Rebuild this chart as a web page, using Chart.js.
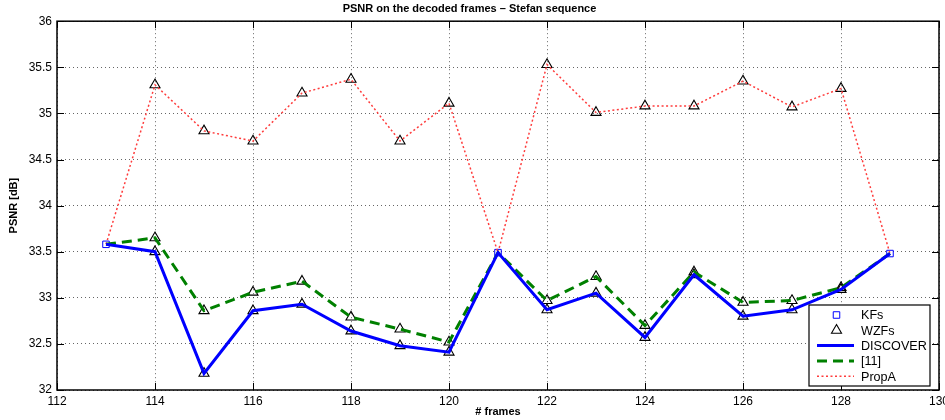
<!DOCTYPE html>
<html>
<head>
<meta charset="utf-8">
<script src="https://cdn.jsdelivr.net/npm/chart.js@4.4.1/dist/chart.umd.min.js"></script>
<style>
  html, body { margin: 0; padding: 0; background: #fff; }
  #wrap { width: 945px; height: 420px; }
</style>
</head>
<body>
<div id="wrap"><canvas id="psnrChart"></canvas></div>
<script>
// Data
const frames = [113, 114, 115, 116, 117, 118, 119, 120, 121, 122, 123, 124, 125, 126, 127, 128, 129];
const keyFrames = [113, 121, 129];
const discover = [33.58, 33.50, 32.18, 32.86, 32.93, 32.64, 32.48, 32.41, 33.49, 32.87, 33.05, 32.57, 33.25, 32.80, 32.87, 33.09, 33.48];
const ref11 = [33.58, 33.65, 32.86, 33.06, 33.18, 32.79, 32.66, 32.52, 33.49, 32.97, 33.23, 32.70, 33.28, 32.95, 32.97, 33.11, 33.48];
const propA = [33.58, 35.31, 34.81, 34.70, 35.22, 35.37, 34.70, 35.11, 33.49, 35.53, 35.01, 35.08, 35.08, 35.35, 35.07, 35.27, 33.48];
const xTicks = [112, 114, 116, 118, 120, 122, 124, 126, 128, 130];
const yTicks = [32, 32.5, 33, 33.5, 34, 34.5, 35, 35.5, 36];

const FONT = '"Liberation Sans", Arial, Helvetica, sans-serif';
const BLUE = '#0000ff';
const GREEN = '#008000';
const RED = '#ff3c3c';

// Build point lists
function toPoints(series) {
    return frames.map((f, i) => ({ x: f, y: series[i] }));
}

const kfPoints = toPoints(discover).filter(p => keyFrames.includes(p.x));
const wzfPoints = [discover, ref11, propA]
    .map(s => toPoints(s).filter(p => !keyFrames.includes(p.x)))
    .flat();

// Inward ticks + full box, MATLAB style
const boxPlugin = {
    id: 'boxPlugin',
    afterDatasetsDraw(chart) {
        const { ctx, chartArea: a, scales } = chart;
        const len = 7;
        ctx.save();
        ctx.strokeStyle = '#000';
        ctx.lineWidth = 1;
        ctx.beginPath();
        xTicks.forEach(t => {
            const px = Math.round(scales.x.getPixelForValue(t)) + 0.5;
            ctx.moveTo(px, a.bottom); ctx.lineTo(px, a.bottom - len);
            ctx.moveTo(px, a.top); ctx.lineTo(px, a.top + len);
        });
        yTicks.forEach(t => {
            const py = Math.round(scales.y.getPixelForValue(t)) + 0.5;
            ctx.moveTo(a.left, py); ctx.lineTo(a.left + len, py);
            ctx.moveTo(a.right, py); ctx.lineTo(a.right - len, py);
        });
        ctx.stroke();
        ctx.lineWidth = 1.5;
        ctx.strokeRect(a.left, a.top, a.right - a.left, a.bottom - a.top);
        ctx.restore();
    }
};

// Legend drawn inside the plot, bottom right
const legendPlugin = {
    id: 'insideLegend',
    afterDraw(chart) {
        const { ctx, chartArea: a } = chart;
        const w = 121, h = 81;
        const x0 = a.right - 9 - w, y0 = a.bottom - 4 - h;
        ctx.save();
        ctx.fillStyle = '#fff';
        ctx.fillRect(x0, y0, w, h);
        ctx.strokeStyle = '#000';
        ctx.lineWidth = 1.2;
        ctx.strokeRect(x0, y0, w, h);
        ctx.font = '12.6px ' + FONT;
        ctx.textBaseline = 'middle';
        chart.data.datasets.forEach((ds, i) => {
            const cy = y0 + 10 + i * 15.3;
            const lx1 = x0 + 8, lx2 = x0 + 45, mx = (lx1 + lx2) / 2 + 1;
            if (ds.showLine) {
                ctx.strokeStyle = ds.borderColor;
                ctx.lineWidth = ds.borderWidth;
                ctx.setLineDash(ds.borderDash || []);
                ctx.beginPath();
                ctx.moveTo(lx1, cy);
                ctx.lineTo(lx2, cy);
                ctx.stroke();
                ctx.setLineDash([]);
            } else {
                ctx.fillStyle = 'rgba(0,0,0,0)';
                ctx.strokeStyle = ds.pointBorderColor;
                ctx.lineWidth = ds.pointBorderWidth;
                Chart.helpers.drawPoint(ctx, {
                    pointStyle: ds.pointStyle,
                    radius: ds.pointRadius,
                    borderWidth: ds.pointBorderWidth
                }, mx, cy);
            }
            ctx.fillStyle = '#000';
            ctx.fillText(ds.label, x0 + 52, cy + 1);
        });
        ctx.restore();
    }
};

const ctx = document.getElementById('psnrChart').getContext('2d');
new Chart(ctx, {
    type: 'scatter',
    data: {
        datasets: [
            {
                label: 'KFs',
                data: kfPoints,
                showLine: false,
                pointStyle: 'rect',
                pointRadius: 4.6,
                pointBorderWidth: 1,
                pointBorderColor: BLUE,
                pointBackgroundColor: 'rgba(0,0,0,0)',
                order: 5
            },
            {
                label: 'WZFs',
                data: wzfPoints,
                showLine: false,
                pointStyle: 'triangle',
                pointRadius: 5.8,
                pointBorderWidth: 1.1,
                pointBorderColor: '#000',
                pointBackgroundColor: 'rgba(0,0,0,0)',
                order: 4
            },
            {
                label: 'DISCOVER',
                data: toPoints(discover),
                showLine: true,
                borderColor: BLUE,
                borderWidth: 3,
                pointRadius: 0,
                order: 1
            },
            {
                label: '[11]',
                data: toPoints(ref11),
                showLine: true,
                borderColor: GREEN,
                borderWidth: 3,
                borderDash: [10, 6],
                pointRadius: 0,
                order: 2
            },
            {
                label: 'PropA',
                data: toPoints(propA),
                showLine: true,
                borderColor: RED,
                borderWidth: 1.5,
                borderDash: [2, 2.5],
                pointRadius: 0,
                order: 3
            }
        ]
    },
    options: {
        responsive: true,
        maintainAspectRatio: false,
        animation: false,
        layout: { autoPadding: false, padding: { left: 0, right: 6, top: 0, bottom: 0 } },
        plugins: {
            legend: { display: false },
            tooltip: { enabled: false },
            title: {
                display: true,
                text: 'PSNR on the decoded frames \u2013 Stefan sequence',
                color: '#000',
                font: { family: FONT, size: 11, weight: 'bold' },
                padding: { top: 2, bottom: 6 }
            }
        },
        scales: {
            x: {
                type: 'linear',
                min: 112,
                max: 130,
                afterBuildTicks: scale => { scale.ticks = xTicks.map(v => ({ value: v })); },
                afterFit: scale => {
                    scale.height = 30;
                    scale.paddingLeft = 0;
                    scale.paddingRight = 0;
                },
                ticks: {
                    color: '#000',
                    padding: 4,
                    maxRotation: 0,
                    font: { family: FONT, size: 12 }
                },
                grid: { color: 'rgba(0,0,0,0.6)', lineWidth: 1, drawTicks: false },
                border: { display: false, dash: [1, 3] },
                title: {
                    display: true,
                    text: '# frames',
                    color: '#000',
                    font: { family: FONT, size: 11, weight: 'bold' },
                    padding: { top: 0, bottom: 1 }
                }
            },
            y: {
                min: 32,
                max: 36,
                afterBuildTicks: scale => { scale.ticks = yTicks.map(v => ({ value: v })); },
                afterFit: scale => {
                    scale.width = 57;
                    scale.paddingTop = 0;
                    scale.paddingBottom = 0;
                },
                ticks: {
                    color: '#000',
                    padding: 5,
                    font: { family: FONT, size: 12 },
                    callback: v => String(v)
                },
                grid: { color: 'rgba(0,0,0,0.6)', lineWidth: 1, drawTicks: false },
                border: { display: false, dash: [1, 3] },
                title: {
                    display: true,
                    text: 'PSNR [dB]',
                    color: '#000',
                    font: { family: FONT, size: 11, weight: 'bold' },
                    padding: { top: 7, bottom: 0 }
                }
            }
        }
    },
    plugins: [boxPlugin, legendPlugin]
});
</script>
</body>
</html>
